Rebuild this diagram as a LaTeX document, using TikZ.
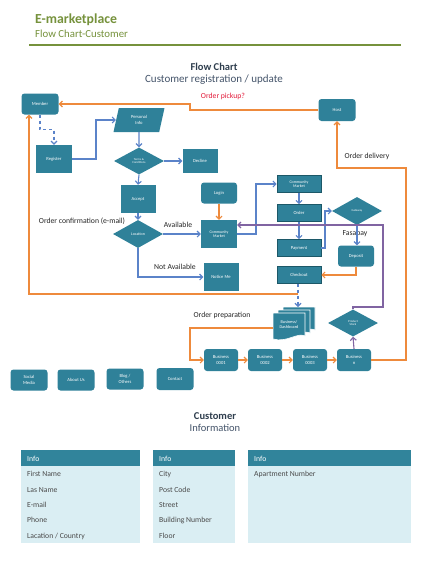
\documentclass[tikz,border=0pt]{standalone}
\usepackage{fontspec}
\setmainfont{Carlito}
\usetikzlibrary{arrows.meta,shapes.geometric,shadows}
\definecolor{nodefill}{HTML}{2F8199}
\definecolor{nodeedge}{HTML}{1C5868}
\definecolor{lineblue}{HTML}{5B83C9}
\definecolor{lineorange}{HTML}{EE8A3C}
\definecolor{linepurple}{HTML}{8064A2}
\definecolor{hdrgreen}{HTML}{76923C}
\definecolor{titlecol}{HTML}{2F3E4E}
\definecolor{subcol}{HTML}{44546A}
\definecolor{labelcol}{HTML}{262626}
\definecolor{redlbl}{HTML}{E31B3A}
\definecolor{tblhead}{HTML}{31849B}
\definecolor{tblbody}{HTML}{DAEEF3}
\definecolor{tbltext}{HTML}{4A4A4A}
\newcommand\docshape[2]{\filldraw[fill=nodefill, draw=white, line width=0.6pt]
  (#1,#2) -- (#1+32,#2) -- (#1+32,#2+23)
  .. controls (#1+24,#2+19) and (#1+14,#2+30) .. (#1,#2+26) -- cycle;}
\begin{document}
\begin{tikzpicture}[x=1pt,y=-1pt,
  box/.style={rectangle, fill=nodefill, text=white, font=\fontsize{4.6}{5.2}\selectfont, align=center, inner sep=0pt},
  rbox/.style={box, rounded corners=3pt},
  bevel/.style={box, draw=nodeedge, line width=0.6pt, drop shadow={shadow xshift=0.9pt, shadow yshift=-0.9pt, opacity=0.4}},
  dia/.style={diamond, fill=nodefill, text=white, font=\fontsize{3}{3.4}\selectfont, align=center, inner sep=0pt},
  blu/.style={draw=lineblue, line width=1.1pt, -{Straight Barb[length=3pt,width=6pt]}},
  org/.style={draw=lineorange, line width=1.1pt, -{Straight Barb[length=3pt,width=6pt]}},
  pur/.style={draw=linepurple, line width=1.1pt, -{Straight Barb[length=3pt,width=6pt]}},
  lbl/.style={font=\fontsize{7.7}{9}\selectfont, text=labelcol, inner sep=0pt},
  tt/.style={font=\fontsize{7.7}{9}\selectfont, text=tbltext, anchor=west, inner sep=0pt},
  th/.style={font=\fontsize{7.7}{9}\selectfont, text=white, anchor=west, inner sep=0pt}
]
\useasboundingbox (0,0) rectangle (430,573);
\fill[white] (0,0) rectangle (430,573);

% header
\node[anchor=west, inner sep=0pt, text=hdrgreen, font=\fontsize{13.8}{16}\selectfont\bfseries] (ttl) at (35,20) {E-marketplace};
\node[anchor=west, inner sep=0pt, text=hdrgreen, font=\fontsize{10.8}{12}\selectfont] (sttl) at (35,34) {Flow Chart-Customer};
\draw[hdrgreen, line width=1.3pt] (29,45) -- (401,45);

\node[inner sep=0pt, text=titlecol, font=\fontsize{10.5}{12}\selectfont\bfseries] (fc) at (214,67) {Flow Chart};
\node[inner sep=0pt, text=subcol, font=\fontsize{11}{13}\selectfont] (crt) at (214,80) {Customer registration / update};

% nodes
\node[rbox, minimum width=37, minimum height=21] (member) at (40,104) {Member};
\node[rbox, minimum width=37, minimum height=22] (host) at (337,110) {Host};
\node[box, minimum width=36, minimum height=28] (register) at (54,159) {Register};
\node[trapezium, trapezium left angle=76, trapezium right angle=104, trapezium stretches=true,
      fill=nodefill, text=white, font=\fontsize{4.6}{5.2}\selectfont, align=center, inner sep=0pt,
      minimum width=51, minimum height=24] (pinfo) at (139,120) {Personal\\Info};
\node[dia, minimum width=50, minimum height=27] (terms) at (139,161) {Terms \&\\Conditions};
\node[box, minimum width=35, minimum height=24] (decline) at (200,161) {Decline};
\node[box, minimum width=35, minimum height=28] (accept) at (138,199) {Accept};
\node[dia, minimum width=50, minimum height=28, font=\fontsize{4}{4.5}\selectfont] (location) at (138,234) {Location};
\node[box, minimum width=36, minimum height=28, font=\fontsize{4}{4.6}\selectfont] (cm1) at (219,234) {Community\\Market};
\node[box, minimum width=35, minimum height=28] (notice) at (221,277) {Notice Me};
\node[rbox, minimum width=36, minimum height=21] (login) at (219,193) {Login};
\node[bevel, minimum width=44, minimum height=17, font=\fontsize{4}{4.6}\selectfont] (cm2) at (299,184) {Community\\Market};
\node[bevel, minimum width=44, minimum height=17] (order) at (299,213) {Order};
\node[bevel, minimum width=44, minimum height=17] (payment) at (299,248) {Payment};
\node[bevel, minimum width=44, minimum height=17] (checkout) at (299,275) {Checkout};
\node[dia, minimum width=50, minimum height=28] (gateway) at (357,211) {Gateway};
\node[rbox, minimum width=36, minimum height=21] (deposit) at (356,256) {Deposit};
\node[dia, minimum width=50, minimum height=27] (pstock) at (353,323) {Product\\Stock};
\node[rbox, minimum width=34, minimum height=22] (b1) at (221,360) {Business\\0001};
\node[rbox, minimum width=34, minimum height=22] (b2) at (265,360) {Business\\0002};
\node[rbox, minimum width=34, minimum height=22] (b3) at (310,360) {Business\\0003};
\node[rbox, minimum width=34, minimum height=22] (bn) at (354,360) {Business\\n};
\node[rbox, minimum width=37, minimum height=21] (social) at (29,380) {Social\\Media};
\node[rbox, minimum width=37, minimum height=21] (about) at (76,380) {About Us};
\node[rbox, minimum width=37, minimum height=21] (blog) at (125,379) {Blog /\\Others};
\node[rbox, minimum width=37, minimum height=22] (contact) at (175,379) {Contact};

% business dashboard (stacked documents)
\docshape{283}{307}
\docshape{278}{310}
\docshape{273}{313}
\node[inner sep=0pt, text=white, align=center, font=\fontsize{4.3}{5}\selectfont] (bd) at (289,325) {Business/\\Dashboard};
\coordinate (bdt) at (298,307);
\coordinate (bdl) at (273,328);

% helper coordinates
\coordinate (mbl) at (29,0);
\coordinate (oc) at (298,294);
\coordinate (pk) at (383,225);

% labels
\node[lbl, text=redlbl] (pickup) at (223,96) {Order pickup?};
\node[lbl] (deliv) at (367,156) {Order delivery};
\node[lbl] (conf) at (82,221) {Order confirmation (e-mail)};
\node[lbl] (avail) at (178,225) {Available};
\node[lbl] (navail) at (175,267) {Not Available};
\node[lbl] (fasa) at (355,234) {Fasapay};
\node[lbl] (prep) at (222,315) {Order preparation};

% connectors
\draw[org] (host.west) -| (190,107) |- (member.east);
\draw[blu, dashed] (member.south) -- ++(0,15) -| (register.north);
\draw[blu] (register.east) -- (96,159) |- (pinfo.west);
\draw[blu] (pinfo.south) -- (terms.north);
\draw[blu] (terms.east) -- (decline.west);
\draw[blu] (terms.south) -- (accept.north);
\draw[blu] (accept.south) -- (location.north);
\draw[blu] (location.east) -- (cm1.west);
\draw[blu] (location.south) |- (notice.west);
\draw[org] (login.south) -- (cm1.north);
\draw[blu] (cm1.east) -- (256,234) |- (cm2.west);
\draw[blu] (cm2.south) -- (order.north);
\draw[blu] (order.south) -- (payment.north);
\draw[blu] (payment.east) -- (325,248) |- (gateway.west);
\draw[blu] (gateway.south) -- (gateway.south |- deposit.north);
\draw[org] (deposit.south) |- (checkout.east);
\draw[blu, dashed] (checkout.south -| bdt) -- (bdt);
\draw[org] (oc) -| (mbl |- member.south);
\draw[pur] (pstock.north) |- (383,307) -- (pk) -- (cm1.east |- pk);
\draw[pur] (bn.north) -- (pstock.south);
\draw[org] (bdl) -- (190,328) |- (b1.west);
\draw[org] (b1.east) -- (b2.west);
\draw[org] (b2.east) -- (b3.west);
\draw[org] (b3.east) -- (bn.west);
\draw[org] (bn.east) -| (406,168) -| (host.south);

% customer information
\node[inner sep=0pt, text=titlecol, font=\fontsize{10.5}{12}\selectfont\bfseries] (cust) at (215,416) {Customer};
\node[inner sep=0pt, text=subcol, font=\fontsize{10.5}{12}\selectfont] (info) at (215,428) {Information};

\fill[tblbody] (21,466) rectangle (140,543);
\fill[tblhead] (21,450) rectangle (140,466);
\fill[tblbody] (153,466) rectangle (235,543);
\fill[tblhead] (153,450) rectangle (235,466);
\fill[tblbody] (248,466) rectangle (411,543);
\fill[tblhead] (248,450) rectangle (411,466);

\node[th] (h1) at (27,459) {Info};
\node[th] (h2) at (159,459) {Info};
\node[th] (h3) at (254,459) {Info};

\node[tt] (r11) at (27,474) {First Name};
\node[tt] (r12) at (27,490) {Las Name};
\node[tt] (r13) at (27,505) {E-mail};
\node[tt] (r14) at (27,520) {Phone};
\node[tt] (r15) at (27,536) {Lacation / Country};
\node[tt] (r21) at (159,474) {City};
\node[tt] (r22) at (159,490) {Post Code};
\node[tt] (r23) at (159,505) {Street};
\node[tt] (r24) at (159,520) {Building Number};
\node[tt] (r25) at (159,536) {Floor};
\node[tt] (r31) at (254,474) {Apartment Number};
\end{tikzpicture}
\end{document}
